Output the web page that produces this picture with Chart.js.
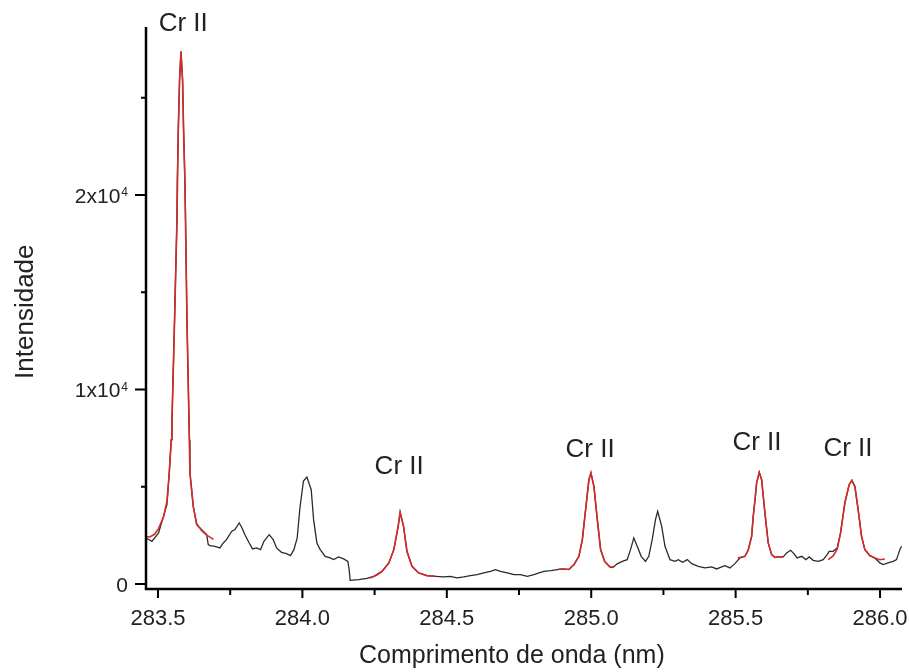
<!DOCTYPE html>
<html>
<head>
<meta charset="utf-8">
<script src="https://cdn.jsdelivr.net/npm/chart.js@4/dist/chart.umd.min.js"></script>
<style>
  html, body { margin: 0; padding: 0; background: #fff; }
  #wrap { width: 909px; height: 672px; }
</style>
</head>
<body>
<div id="wrap"><canvas id="spectrum"></canvas></div>
<script>
// measured spectrum (nm, counts)
const wavelength = [
  283.459, 283.465, 283.479, 283.502, 283.519, 283.531, 283.539, 283.546, 283.5485, 283.5574,
  283.5657, 283.5668, 283.5703, 283.5747, 283.5796, 283.5851, 283.5886, 283.5931, 283.5955, 283.6003,
  283.6073, 283.609, 283.6107, 283.6221, 283.6339, 283.6512, 283.6685, 283.6740, 283.6799, 283.6972,
  283.7145, 283.7260, 283.7374, 283.7547, 283.7664, 283.7813, 283.7893, 283.8010, 283.8159, 283.8273,
  283.8412, 283.8550, 283.8668, 283.8851, 283.8990, 283.9104, 283.9277, 283.9450, 283.9588, 283.9706,
  283.9820, 283.9913, 284.0036, 284.0156, 284.0305, 284.0388, 284.0502, 284.0616, 284.0789, 284.0962,
  284.1080, 284.1253, 284.1426, 284.1574, 284.1619, 284.1654, 284.1948, 284.2235, 284.2470, 284.2761,
  284.2993, 284.3166, 284.3315, 284.3384, 284.3502, 284.3620, 284.3793, 284.4021, 284.4311, 284.4599,
  284.4889, 284.5121, 284.5353, 284.5585, 284.5816, 284.6048, 284.6280, 284.6512, 284.6685, 284.6858,
  284.7090, 284.7322, 284.7554, 284.7785, 284.8017, 284.8190, 284.8363, 284.8595, 284.8827, 284.9000,
  284.9228, 284.9401, 284.9574, 284.9692, 284.9806, 284.9920, 284.9990, 285.0093, 285.0211, 285.0325,
  285.0464, 285.0647, 285.0744, 285.0900, 285.1073, 285.1246, 285.1360, 285.1474, 285.1592, 285.1730,
  285.1879, 285.1993, 285.2111, 285.2225, 285.2301, 285.2440, 285.2554, 285.2727, 285.2900, 285.3014,
  285.3166, 285.3325, 285.3478, 285.3706, 285.3938, 285.4170, 285.4343, 285.4516, 285.4630, 285.4803,
  285.4976, 285.5149, 285.5322, 285.5436, 285.5554, 285.5609, 285.5669, 285.5727, 285.5817, 285.5900,
  285.6014, 285.6128, 285.6246, 285.6360, 285.6533, 285.6647, 285.6765, 285.6903, 285.7017, 285.7131,
  285.7284, 285.7433, 285.7547, 285.7685, 285.7858, 285.8031, 285.8170, 285.8239, 285.8377, 285.8516,
  285.8633, 285.8782, 285.8931, 285.9024, 285.9128, 285.9242, 285.9360, 285.9474, 285.9647, 285.9820,
  285.9993, 286.0107, 286.0280, 286.0453, 286.0571, 286.0685, 286.0744
];
const intensity = [
  2370, 2320, 2200, 2630, 3480, 4080, 5710, 7420, 8450, 13580,
  18720, 20770, 23340, 25910, 27365, 25910, 23340, 20770, 18720, 13580,
  8450, 7420, 5710, 3995, 3056, 2800, 2540, 2030, 1977, 1940,
  1860, 2115, 2285, 2710, 2800, 3140, 2935, 2540, 2115, 1808,
  1860, 1772, 2200, 2540, 2285, 1860, 1635, 1566, 1464, 1772,
  2373, 3900, 5300, 5505, 4853, 3313, 2115, 1772, 1428, 1345,
  1258, 1397, 1294, 1171, 745, 195, 231, 300, 400, 657,
  1089, 1772, 2969, 3688, 2969, 1685, 914, 575, 437, 400,
  370, 400, 318, 370, 437, 488, 575, 657, 745, 657,
  575, 488, 488, 400, 488, 575, 657, 693, 745, 780,
  745, 1000, 1428, 2285, 3826, 5367, 5711, 5023, 3313, 1772,
  1171, 883, 850, 1040, 1171, 1258, 1772, 2373, 1942, 1428,
  1171, 1428, 2285, 3313, 3739, 2969, 1942, 1258, 1171, 1258,
  1120, 1258, 1053, 914, 832, 883, 780, 883, 950, 832,
  1053, 1346, 1428, 1750, 2455, 3483, 4300, 5198, 5742, 5367,
  3657, 2115, 1515, 1376, 1397, 1397, 1603, 1736, 1566, 1346,
  1428, 1258, 1397, 1222, 1171, 1258, 1515, 1685, 1685, 1860,
  2630, 4170, 5110, 5331, 5023, 3826, 2455, 1772, 1464, 1346,
  1089, 1000, 1089, 1171, 1258, 1772, 1942
];

// fitted Cr II profiles
const fitWave1 = [283.459, 283.472, 283.488, 283.502, 283.519, 283.531, 283.539, 283.546, 283.5485, 283.5574, 283.5657, 283.5703, 283.5747, 283.5796, 283.5851, 283.5886, 283.5931, 283.6003, 283.6073, 283.6107, 283.6221, 283.6339, 283.6512, 283.6685, 283.6924];
const fitInt1  = [2450, 2420, 2560, 2850, 3450, 4250, 5710, 7420, 8450, 13580, 18720, 23340, 25910, 27365, 25910, 23340, 20770, 13580, 8450, 5710, 3995, 3100, 2750, 2520, 2300];
const fitWave2 = [284.2346, 284.2580, 284.2761, 284.2993, 284.3166, 284.3315, 284.3384, 284.3502, 284.3620, 284.3793, 284.4021, 284.4311, 284.4599];
const fitInt2  = [318, 470, 657, 1089, 1772, 2969, 3688, 2969, 1685, 914, 575, 437, 400];
const fitWave3 = [284.886, 284.9228, 284.9401, 284.9574, 284.9692, 284.9806, 284.9920, 284.9990, 285.0093, 285.0211, 285.0325, 285.0464, 285.0647, 285.0765];
const fitInt3  = [760, 760, 1000, 1428, 2285, 3826, 5367, 5711, 5023, 3313, 1772, 1171, 883, 880];
const fitWave4 = [285.507, 285.5322, 285.5436, 285.5554, 285.5609, 285.5669, 285.5727, 285.5817, 285.5900, 285.6014, 285.6128, 285.6246, 285.6360, 285.6533, 285.6647];
const fitInt4  = [1346, 1428, 1750, 2455, 3483, 4300, 5198, 5742, 5367, 3657, 2115, 1515, 1376, 1397, 1397];
const fitWave5 = [285.8204, 285.8377, 285.8516, 285.8633, 285.8782, 285.8931, 285.9024, 285.9128, 285.9242, 285.9360, 285.9474, 285.9647, 285.9820, 285.9993, 286.0166];
const fitInt5  = [1258, 1450, 1800, 2630, 4170, 5110, 5331, 5023, 3826, 2455, 1772, 1464, 1346, 1250, 1294];

// line labels, placed in data units
const labelText = ['Cr II', 'Cr II', 'Cr II', 'Cr II', 'Cr II'];
const labelWave = [283.5875, 284.335, 284.996, 285.574, 285.889];
const labelInt  = [28787, 6035, 6908, 7267, 6959];

// axis ticks
const xMajorTicks = [283.5, 284.0, 284.5, 285.0, 285.5, 286.0];
const xMinorTicks = [283.75, 284.25, 284.75, 285.25, 285.75];
const yMajorTicks = [0, 10000, 20000];
const yMinorTicks = [5000, 15000, 25000];
const yTickBase = ['0', '1x10', '2x10'];
const yTickExp  = ['', '4', '4'];

const FONT = "'Liberation Sans', Arial, sans-serif";
const INK = '#222';
const RED = '#d42a2a';

const toPoints = (xs, ys) => xs.map((x, i) => ({ x: x, y: ys[i] }));

const fitSets = [
  [fitWave1, fitInt1], [fitWave2, fitInt2], [fitWave3, fitInt3],
  [fitWave4, fitInt4], [fitWave5, fitInt5]
].map(([xs, ys]) => ({
  data: toPoints(xs, ys),
  showLine: true,
  borderColor: RED,
  borderWidth: 1.6,
  pointRadius: 0,
  tension: 0
}));

const decor = {
  id: 'decor',
  afterDraw(chart) {
    const ctx = chart.ctx;
    const a = chart.chartArea;
    const xs = chart.scales.x, ys = chart.scales.y;
    ctx.save();
    ctx.strokeStyle = '#000';
    ctx.lineWidth = 2.5;
    ctx.beginPath();
    ctx.moveTo(a.left, a.top);
    ctx.lineTo(a.left, a.bottom + 1);
    ctx.lineTo(a.right, a.bottom + 1);
    ctx.stroke();

    ctx.lineWidth = 2;
    ctx.beginPath();
    xMajorTicks.forEach(v => { const p = xs.getPixelForValue(v); ctx.moveTo(p, a.bottom); ctx.lineTo(p, a.bottom + 10); });
    xMinorTicks.forEach(v => { const p = xs.getPixelForValue(v); ctx.moveTo(p, a.bottom); ctx.lineTo(p, a.bottom + 7); });
    yMajorTicks.forEach(v => { const p = ys.getPixelForValue(v); ctx.moveTo(a.left, p); ctx.lineTo(a.left - 11, p); });
    yMinorTicks.forEach(v => { const p = ys.getPixelForValue(v); ctx.moveTo(a.left, p); ctx.lineTo(a.left - 5, p); });
    ctx.stroke();

    // y tick labels with exponent
    ctx.fillStyle = INK;
    ctx.textBaseline = 'middle';
    const right = a.left - 18;
    yMajorTicks.forEach((v, i) => {
      const p = ys.getPixelForValue(v) + 2;
      let edge = right;
      if (yTickExp[i]) {
        ctx.font = '12px ' + FONT;
        ctx.textAlign = 'right';
        ctx.fillText(yTickExp[i], right, p - 4);
        edge = right - ctx.measureText(yTickExp[i]).width - 1;
      }
      ctx.font = '21px ' + FONT;
      ctx.textAlign = 'right';
      ctx.fillText(yTickBase[i], edge, p);
    });

    // axis titles
    ctx.font = '26px ' + FONT;
    ctx.textAlign = 'center';
    ctx.save();
    ctx.translate(26, ys.getPixelForValue(14000));
    ctx.rotate(-Math.PI / 2);
    ctx.fillText('Intensidade', 0, 0);
    ctx.restore();
    ctx.font = '25px ' + FONT;
    ctx.fillText('Comprimento de onda (nm)', a.left + (a.right - a.left) * 0.484, a.bottom + 68);

    // peak labels
    ctx.font = '26px ' + FONT;
    labelText.forEach((t, i) => {
      ctx.fillText(t, xs.getPixelForValue(labelWave[i]), ys.getPixelForValue(labelInt[i]));
    });
    ctx.restore();
  }
};

new Chart(document.getElementById('spectrum'), {
  type: 'scatter',
  data: {
    datasets: fitSets.concat([{
      data: toPoints(wavelength, intensity),
      showLine: true,
      borderColor: '#2a2a2a',
      borderWidth: 1.3,
      pointRadius: 0,
      tension: 0
    }])
  },
  options: {
    responsive: true,
    maintainAspectRatio: false,
    animation: false,
    layout: { padding: { top: 27, right: 7, bottom: 0, left: 0 } },
    plugins: { legend: { display: false }, tooltip: { enabled: false } },
    scales: {
      x: {
        type: 'linear',
        min: 283.4585,
        max: 286.076,
        afterBuildTicks: s => { s.ticks = xMajorTicks.map(v => ({ value: v })); },
        afterFit: s => { s.height = 84; s.paddingLeft = 0; s.paddingRight = 0; },
        grid: { display: false, drawTicks: false },
        border: { display: false },
        ticks: {
          color: INK,
          padding: 18,
          maxRotation: 0,
          autoSkip: false,
          font: { family: FONT, size: 22 },
          callback: v => Number(v).toFixed(1)
        }
      },
      y: {
        type: 'linear',
        min: -200,
        max: 28630,
        afterFit: s => { s.width = 146; },
        grid: { display: false, drawTicks: false },
        border: { display: false },
        ticks: { display: false }
      }
    }
  },
  plugins: [decor]
});
</script>
</body>
</html>
